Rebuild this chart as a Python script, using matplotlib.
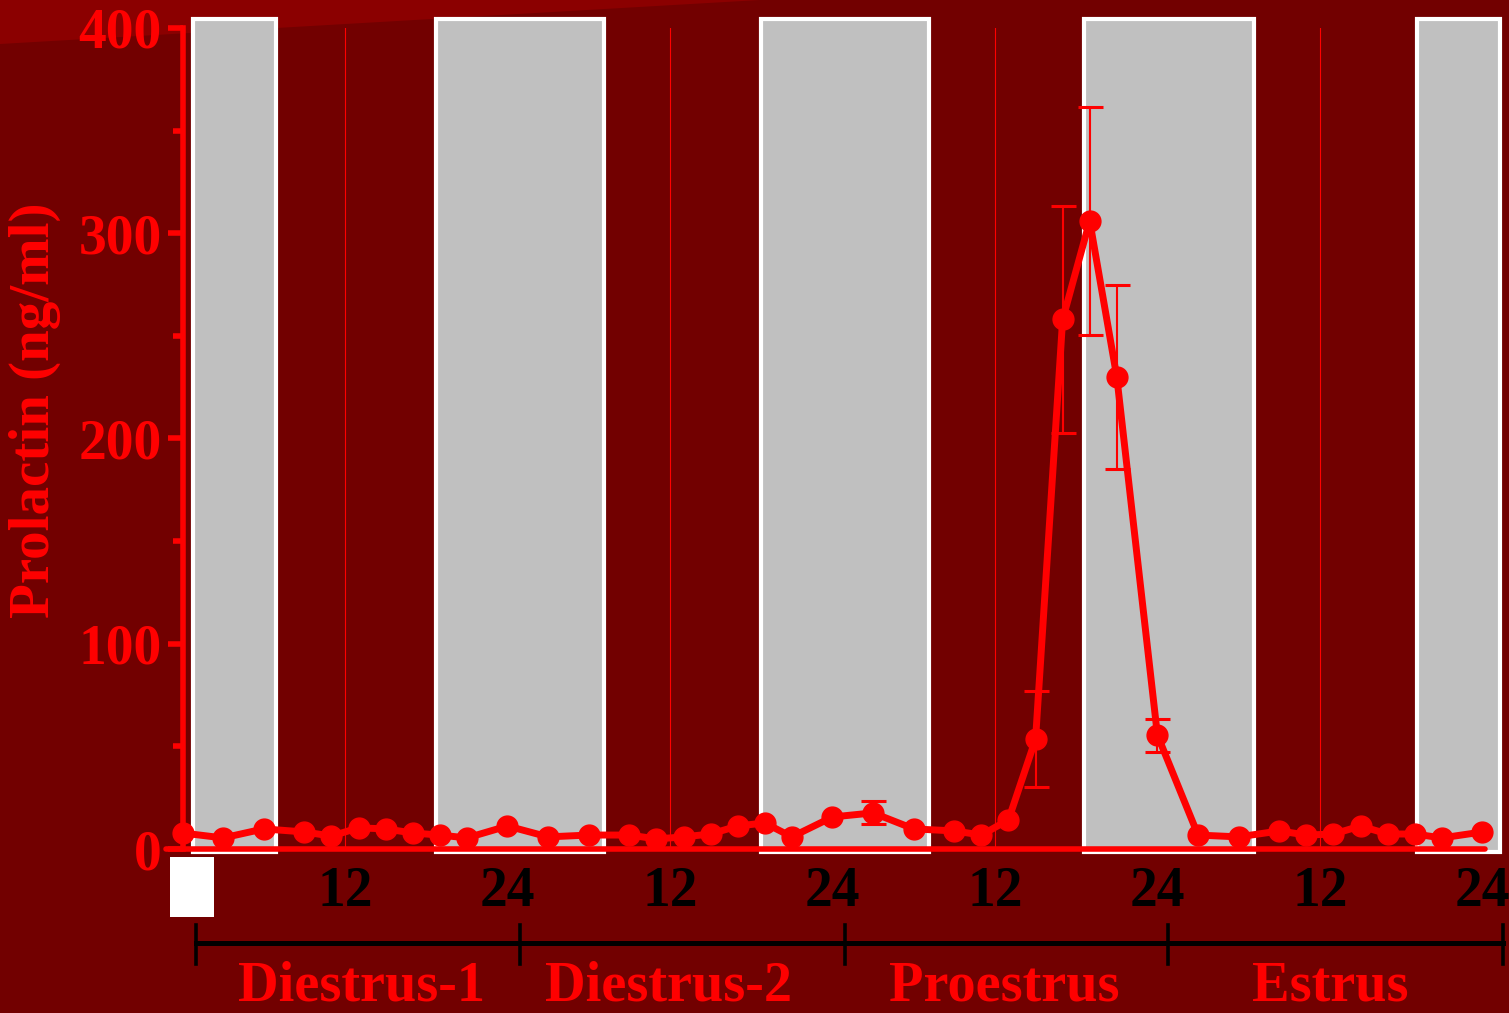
import matplotlib
matplotlib.use('Agg')
import matplotlib.pyplot as plt
import matplotlib.patches as mpatches
import matplotlib.transforms as mtransforms
from matplotlib.lines import Line2D
import numpy as np

plt.rcParams['font.family'] = ['Liberation Serif', 'DejaVu Serif']
plt.rcParams['font.weight'] = 'bold'

# ── Data ───────────────────────────────────────────────────────────────────────
hours = [0, 3, 6, 9, 11, 13, 15, 17, 19, 21,
         24, 27, 30, 33, 35, 37, 39, 41, 43, 45,
         48, 51, 54, 57, 59, 61, 63, 65, 67, 69,
         72, 75, 78, 81, 83, 85, 87, 89, 91, 93, 96]
prolactin = [7.8, 5.4, 9.8, 8.3, 6.3, 10.3, 9.8, 7.8, 6.8, 5.4,
             11.2, 5.9, 6.8, 6.8, 4.9, 5.9, 7.3, 11.2, 12.7, 5.9,
             15.6, 17.6, 9.8, 8.8, 6.8, 14.2, 53.5, 258, 306, 230,
             55.5, 6.8, 5.9, 8.8, 6.8, 7.3, 11.2, 7.3, 7.3, 5.4, 8.3]
sem = [0, 0, 0, 0, 0, 0, 0, 0, 0, 0,
       0, 0, 0, 0, 0, 0, 0, 0, 0, 0,
       0, 5.6, 0, 0, 0, 0, 23.5, 55.5, 55.5, 45,
       8, 0, 0, 0, 0, 0, 0, 0, 0, 0, 0]

dark_start = [0.8, 18.7, 42.7, 66.6, 91.2]
dark_end = [6.9, 31.1, 55.1, 79.1, 97.3]

xtick_pos = [12, 24, 36, 48, 60, 72, 84, 96]
xtick_lab = ["12", "24", "12", "24", "12", "24", "12", "24"]
noon_lines = [12, 36, 60, 84]

stages = ["Diestrus-1", "Diestrus-2", "Proestrus", "Estrus"]
stage_edges = [1.0, 24.9, 48.9, 72.8, 97.5]

# ── Colours ────────────────────────────────────────────────────────────────────
BG = "#720000"
WEDGE = "#8B0000"
RED = "#FF0000"
GRAY = "#C0C0C0"

W, H = 1509, 1013
fig = plt.figure(figsize=(W / 100, H / 100), dpi=100, facecolor=BG)

# light wedge in the top-left corner
fig.add_artist(mpatches.Polygon([(0, 1), (0, 1 - 44 / H), (760 / W, 1)],
                                closed=True, transform=fig.transFigure,
                                facecolor=WEDGE, edgecolor="none", zorder=0))

ax = fig.add_axes([182.5 / W, 164 / H, 1317.5 / W, 821 / H])
ax.set_facecolor("none")
ax.set_xlim(0, 97.3)
ax.set_ylim(0, 400)

# dark-phase boxes
for s, e in zip(dark_start, dark_end):
    ax.add_patch(mpatches.Rectangle((s, -1.5), e - s, 406, facecolor=GRAY,
                                    edgecolor="white", linewidth=3,
                                    clip_on=False, zorder=1))

for x in noon_lines:
    ax.plot([x, x], [0, 400], color=RED, lw=0.8, zorder=0.5)

# x baseline
ax.plot([-1.2, 96.2], [0, 0], color=RED, lw=4, solid_capstyle="round",
        clip_on=False, zorder=4)

# data
ax.plot(hours, prolactin, color=RED, lw=5, marker="o", markersize=15,
        clip_on=False, zorder=5)
eh = [h for h, e in zip(hours, sem) if e > 0]
ev = [v for v, e in zip(prolactin, sem) if e > 0]
ee = [e for e in sem if e > 0]
ax.errorbar(eh, ev, yerr=ee, fmt="none", ecolor=RED, elinewidth=1.5,
            capsize=9, capthick=2.2, zorder=5)

# axes styling
for sp in ["top", "right", "bottom"]:
    ax.spines[sp].set_visible(False)
ax.spines["left"].set_color(RED)
ax.spines["left"].set_linewidth(4)
ax.spines["left"].set_zorder(6)

ax.set_yticks([0, 100, 200, 300, 400])
ax.set_yticks([50, 150, 250, 350], minor=True)
ax.tick_params(axis="y", which="major", length=11, width=4, color=RED,
               labelcolor=RED, labelsize=40, pad=4)
ax.tick_params(axis="y", which="minor", length=7, width=4, color=RED)
ax.set_xticks(xtick_pos)
ax.set_xticklabels(xtick_lab)
ax.tick_params(axis="x", length=0, labelcolor="black", labelsize=40, pad=12)
for lab in ax.get_xticklabels() + ax.get_yticklabels():
    lab.set_fontweight("bold")

fig.text(35 / W, 1 - 410 / H, "Prolactin (ng/ml)", rotation=90, color=RED,
         fontsize=41, fontweight="bold", ha="center", va="center")

# white marker below the origin
fig.add_artist(mpatches.Rectangle((170 / W, 96 / H), 44 / W, 60 / H,
                                  transform=fig.transFigure,
                                  facecolor="white", edgecolor="none"))

# stage bracket
trans = mtransforms.blended_transform_factory(ax.transData, fig.transFigure)
yb = 1 - 943 / H
fig.add_artist(Line2D([stage_edges[0], stage_edges[-1]], [yb, yb],
                      transform=trans, color="black", lw=3.6))
for x in stage_edges:
    fig.add_artist(Line2D([x, x], [1 - 925 / H, 1 - 964 / H],
                          transform=trans, color="black", lw=2.6))
label_x = [13.25, 35.9, 60.7, 84.8]
for name, xc in zip(stages, label_x):
    fig.text(xc, 1 - 1000 / H, name, transform=trans, color=RED,
             fontsize=40.5, fontweight="bold", ha="center", va="baseline")

fig.savefig("out.png", dpi=100, facecolor=BG)
